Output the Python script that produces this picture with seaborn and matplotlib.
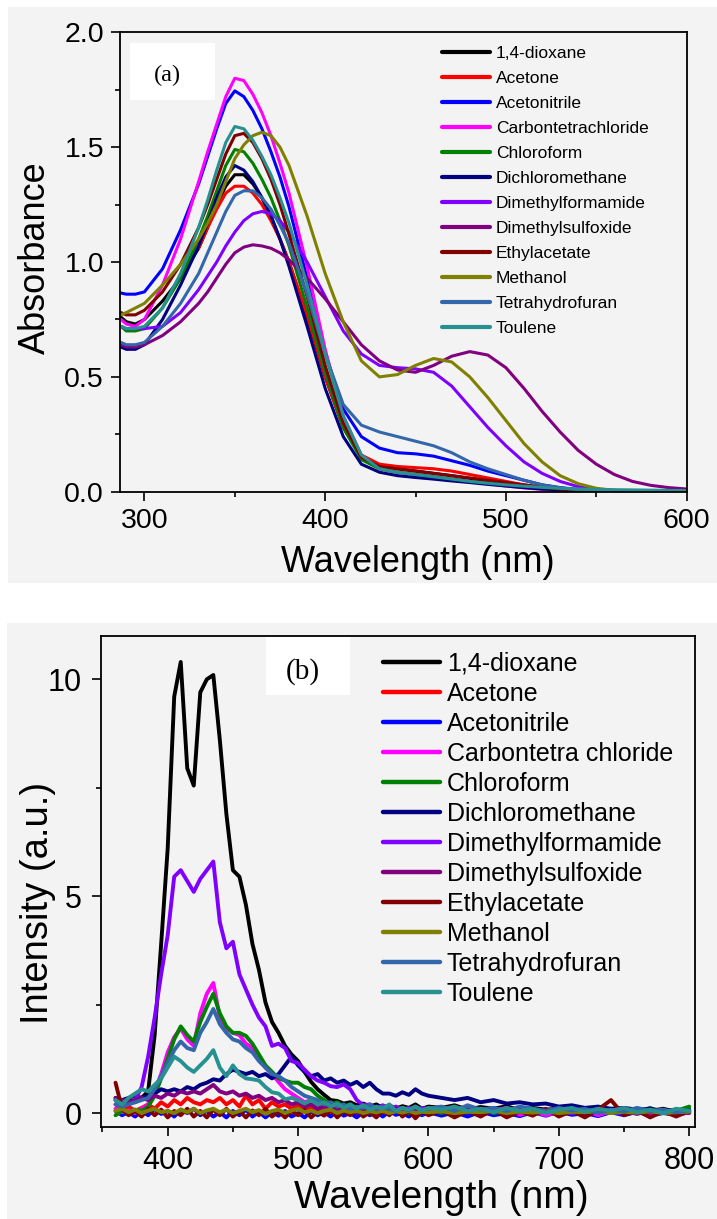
import numpy as np
import pandas as pd
import matplotlib
matplotlib.use("Agg")
import matplotlib.pyplot as plt
from matplotlib.patches import Rectangle
from matplotlib.ticker import MultipleLocator, FormatStrFormatter
import seaborn as sns

sns.set_style("ticks")
plt.rcParams["font.family"] = ["Liberation Sans", "DejaVu Sans"]
plt.rcParams["text.color"] = "black"
plt.rcParams["axes.labelcolor"] = "black"
plt.rcParams["xtick.color"] = "black"
plt.rcParams["ytick.color"] = "black"
plt.rcParams["axes.linewidth"] = 1.3
plt.rcParams["xtick.direction"] = "out"
plt.rcParams["ytick.direction"] = "out"
plt.rcParams["xtick.major.width"] = 1.2
plt.rcParams["ytick.major.width"] = 1.2
plt.rcParams["xtick.minor.width"] = 1.2
plt.rcParams["ytick.minor.width"] = 1.2
plt.rcParams["xtick.major.size"] = 6.5
plt.rcParams["ytick.major.size"] = 6.5
plt.rcParams["xtick.minor.size"] = 3.6
plt.rcParams["ytick.minor.size"] = 3.6

# ---------------- panel (a): absorbance ----------------
solvents_a = ["1,4-dioxane", "Acetone", "Acetonitrile", "Carbontetrachloride",
              "Chloroform", "Dichloromethane", "Dimethylformamide",
              "Dimethylsulfoxide", "Ethylacetate", "Methanol",
              "Tetrahydrofuran", "Toulene"]
solvents_b = ["1,4-dioxane", "Acetone", "Acetonitrile", "Carbontetra chloride",
              "Chloroform", "Dichloromethane", "Dimethylformamide",
              "Dimethylsulfoxide", "Ethylacetate", "Methanol",
              "Tetrahydrofuran", "Toulene"]
colors = ["#000000", "#FF0000", "#0000FF", "#FF00FF", "#008000", "#000080",
          "#8000FF", "#800080", "#800000", "#808000", "#3366AA", "#279191"]

wl_a = [287, 290, 295, 300, 310, 320, 330, 335, 340, 345, 350, 355, 360, 365,
        370, 375, 380, 390, 400, 410, 420, 430, 440, 450, 460, 470, 480, 490,
        500, 510, 520, 530, 540, 550, 560, 570, 580, 590, 600]

abs_dioxane = [0.76, 0.74, 0.73, 0.75, 0.83, 0.93, 1.06, 1.15, 1.25, 1.33, 1.38, 1.38, 1.34, 1.28,
               1.2, 1.1, 1.0, 0.76, 0.5, 0.28, 0.15, 0.11, 0.1, 0.09, 0.08, 0.07, 0.058, 0.045,
               0.033, 0.022, 0.013, 0.007, 0.004, 0.002, 0.001, 0.001, 0, 0, 0]
abs_acetone = [np.nan, np.nan, np.nan, np.nan, np.nan, np.nan, 1.06, 1.15, 1.23, 1.3, 1.33, 1.33, 1.3, 1.25,
               1.18, 1.1, 1.0, 0.77, 0.5, 0.28, 0.16, 0.12, 0.11, 0.105, 0.1, 0.09, 0.075, 0.06,
               0.045, 0.03, 0.018, 0.01, 0.005, 0.003, 0.002, 0.001, 0.001, 0, 0]
abs_acetonitrile = [0.865, 0.86, 0.86, 0.87, 0.97, 1.14, 1.34, 1.46, 1.58, 1.69, 1.745, 1.72, 1.66, 1.58,
                    1.48, 1.37, 1.24, 0.93, 0.6, 0.36, 0.24, 0.19, 0.17, 0.165, 0.155, 0.135, 0.115, 0.09,
                    0.07, 0.05, 0.03, 0.018, 0.01, 0.005, 0.003, 0.002, 0.001, 0.001, 0]
abs_ccl4 = [0.75, 0.73, 0.72, 0.75, 0.9, 1.1, 1.35, 1.48, 1.6, 1.72, 1.8, 1.79, 1.73, 1.65,
            1.55, 1.43, 1.3, 0.98, 0.62, 0.33, 0.16, 0.1, 0.085, 0.075, 0.065, 0.055, 0.045, 0.035,
            0.025, 0.017, 0.01, 0.006, 0.004, 0.003, 0.002, 0.002, 0.001, 0.001, 0.001]
abs_chloroform = [0.72, 0.70, 0.70, 0.71, 0.8, 0.93, 1.1, 1.2, 1.31, 1.42, 1.49, 1.48, 1.43, 1.36,
                  1.28, 1.18, 1.07, 0.8, 0.52, 0.28, 0.14, 0.1, 0.085, 0.075, 0.065, 0.055, 0.045, 0.036,
                  0.028, 0.02, 0.014, 0.009, 0.006, 0.004, 0.002, 0.001, 0.001, 0, 0]
abs_dcm = [0.63, 0.62, 0.62, 0.64, 0.75, 0.9, 1.07, 1.17, 1.28, 1.37, 1.42, 1.4, 1.35, 1.28,
           1.2, 1.1, 0.98, 0.72, 0.45, 0.24, 0.12, 0.085, 0.07, 0.062, 0.055, 0.047, 0.04, 0.032,
           0.025, 0.018, 0.012, 0.008, 0.005, 0.003, 0.002, 0.001, 0.001, 0, 0]
abs_dmf = [0.72, 0.71, 0.71, 0.71, 0.72, 0.78, 0.88, 0.94, 1.0, 1.07, 1.13, 1.18, 1.21, 1.22,
           1.21, 1.18, 1.13, 1.0, 0.85, 0.7, 0.6, 0.55, 0.54, 0.535, 0.52, 0.46, 0.37, 0.28,
           0.2, 0.13, 0.08, 0.045, 0.022, 0.01, 0.005, 0.002, 0.001, 0, 0]
abs_dmso = [0.64, 0.63, 0.63, 0.64, 0.68, 0.74, 0.82, 0.87, 0.93, 0.99, 1.04, 1.065, 1.075, 1.07,
            1.06, 1.04, 1.01, 0.93, 0.84, 0.74, 0.64, 0.57, 0.53, 0.52, 0.55, 0.59, 0.61, 0.595,
            0.54, 0.45, 0.35, 0.26, 0.18, 0.12, 0.075, 0.045, 0.028, 0.018, 0.012]
abs_etac = [0.78, 0.77, 0.77, 0.79, 0.87, 0.99, 1.15, 1.25, 1.36, 1.47, 1.55, 1.56, 1.52, 1.45,
            1.36, 1.25, 1.12, 0.85, 0.55, 0.3, 0.15, 0.11, 0.1, 0.09, 0.08, 0.07, 0.06, 0.05,
            0.04, 0.03, 0.02, 0.012, 0.007, 0.004, 0.002, 0.001, 0.001, 0, 0]
abs_methanol = [0.77, 0.78, 0.8, 0.82, 0.9, 0.99, 1.1, 1.17, 1.25, 1.35, 1.45, 1.51, 1.55, 1.565,
                1.55, 1.5, 1.42, 1.2, 0.95, 0.74, 0.57, 0.5, 0.51, 0.55, 0.58, 0.565, 0.5, 0.41,
                0.31, 0.21, 0.13, 0.07, 0.035, 0.015, 0.006, 0.002, 0.001, 0, 0]
abs_thf = [0.65, 0.64, 0.64, 0.65, 0.72, 0.82, 0.95, 1.04, 1.13, 1.22, 1.29, 1.31, 1.31, 1.28,
           1.23, 1.16, 1.08, 0.86, 0.6, 0.38, 0.29, 0.26, 0.24, 0.22, 0.2, 0.17, 0.13, 0.1,
           0.075, 0.05, 0.03, 0.017, 0.009, 0.005, 0.003, 0.002, 0.001, 0, 0]
abs_toluene = [0.72, 0.71, 0.71, 0.72, 0.8, 0.95, 1.15, 1.27, 1.4, 1.52, 1.59, 1.58, 1.53, 1.46,
               1.38, 1.28, 1.17, 0.9, 0.6, 0.33, 0.16, 0.1, 0.085, 0.075, 0.065, 0.055, 0.045, 0.037,
               0.03, 0.024, 0.019, 0.015, 0.012, 0.01, 0.009, 0.008, 0.007, 0.006, 0.005]

absorb = [abs_dioxane, abs_acetone, abs_acetonitrile, abs_ccl4, abs_chloroform, abs_dcm,
          abs_dmf, abs_dmso, abs_etac, abs_methanol, abs_thf, abs_toluene]

# ---------------- panel (b): emission ----------------
wl_b = list(range(360, 601, 5)) + list(range(610, 801, 10))

em_dioxane = [0.3, 0.22, 0.3, 0.25, 0.35, 0.5, 1.8, 3.9, 6.1, 9.6, 10.4, 7.95, 7.55, 9.7, 10.0, 10.1, 8.6, 6.9, 5.6, 5.45,
              4.8, 3.9, 3.3, 2.55, 2.1, 1.85, 1.55, 1.35, 1.2, 0.95, 0.72, 0.55, 0.42, 0.3, 0.28, 0.22, 0.25, 0.18, 0.22, 0.15,
              0.2, 0.12, 0.18, 0.1, 0.16, 0.12, 0.2, 0.1, 0.15,
              0.12, 0.18, 0.08, 0.14, 0.1, 0.16, 0.06, 0.12, 0.08, 0.1, 0.05, 0.12, 0.06, 0.1, 0.04, 0.09, 0.05, 0.1, 0.03, 0.08]
em_acetone = [0.2, 0.1, 0.15, 0.05, 0.12, 0.2, 0.1, 0.25, 0.15, 0.3, 0.2, 0.35, 0.25, 0.2, 0.3, 0.25, 0.35, 0.2, 0.3, 0.15,
              0.4, 0.2, 0.3, 0.1, 0.25, 0.15, 0.2, 0.1, 0.18, 0.05, 0.15, 0.05, 0.12, 0.0, 0.1, 0.02, 0.08, -0.02, 0.05, 0.0,
              0.08, -0.03, 0.05, 0.0, 0.06, -0.02, 0.04, 0.0, 0.05,
              -0.02, 0.05, 0.0, 0.06, -0.03, 0.04, 0.0, 0.05, -0.02, 0.03, 0.0, 0.05, -0.03, 0.04, 0.0, 0.05, -0.02, 0.03, 0.0, 0.04]
em_acetonitrile = [0.05, -0.05, 0.02, -0.08, 0.05, -0.05, 0.1, -0.02, 0.05, -0.08, 0.08, 0.0, 0.1, -0.05, 0.05, -0.08, 0.02, -0.1, 0.05, -0.05,
                   0.08, -0.08, 0.03, -0.1, 0.02, -0.06, 0.05, -0.08, 0.0, -0.1, 0.04, -0.05, 0.02, -0.08, 0.05, -0.06, 0.0, -0.1, 0.03, -0.05,
                   0.02, -0.08, 0.04, -0.04, 0.0, -0.08, 0.03, -0.05, 0.02,
                   -0.06, 0.02, -0.08, 0.03, -0.05, 0.0, -0.07, 0.02, -0.06, 0.03, -0.04, 0.0, -0.07, 0.02, -0.05, 0.03, -0.06, 0.0, -0.04, 0.02]
em_ccl4 = [0.1, 0.02, 0.05, 0.0, 0.1, 0.2, 0.5, 0.9, 1.4, 1.75, 1.95, 1.7, 1.55, 2.3, 2.75, 3.0, 2.2, 1.95, 1.85, 1.8,
           1.6, 1.5, 1.3, 1.05, 0.9, 0.72, 0.55, 0.45, 0.35, 0.25, 0.3, 0.2, 0.15, 0.2, 0.1, 0.15, 0.05, 0.12, 0.02, 0.1,
           0.0, 0.08, -0.02, 0.06, 0.0, 0.1, -0.03, 0.05, 0.0,
           0.05, -0.05, 0.08, -0.02, 0.06, 0.12, -0.04, 0.05, -0.05, 0.04, 0.0, 0.07, -0.05, 0.05, 0.0, 0.06, -0.03, 0.04, -0.05, 0.02]
em_chloroform = [-0.05, 0.05, 0.0, 0.08, 0.05, 0.15, 0.4, 0.8, 1.25, 1.7, 2.0, 1.8, 1.65, 2.1, 2.45, 2.75, 2.3, 2.0, 1.85, 1.85,
                 1.78, 1.6, 1.35, 1.1, 0.95, 0.8, 0.75, 0.7, 0.7, 0.6, 0.55, 0.4, 0.3, 0.2, 0.25, 0.15, 0.2, 0.1, 0.15, 0.05,
                 0.12, 0.08, 0.0, 0.1, 0.05, 0.0, 0.08, 0.02, 0.1,
                 0.0, 0.08, 0.02, 0.1, 0.0, 0.06, 0.12, -0.02, 0.08, 0.0, 0.06, -0.03, 0.05, 0.0, 0.1, 0.02, 0.12, 0.0, 0.05, 0.15]
em_dcm = [0.35, 0.3, 0.35, 0.4, 0.35, 0.4, 0.45, 0.55, 0.5, 0.55, 0.5, 0.6, 0.55, 0.65, 0.7, 0.78, 0.75, 0.9, 1.0, 0.95,
          0.9, 0.95, 0.85, 0.9, 0.8, 0.9, 1.1, 1.3, 1.1, 0.95, 0.85, 0.9, 0.75, 0.8, 0.7, 0.75, 0.65, 0.72, 0.6, 0.7,
          0.55, 0.45, 0.45, 0.4, 0.48, 0.42, 0.55, 0.45, 0.4,
          0.35, 0.3, 0.35, 0.25, 0.3, 0.22, 0.25, 0.2, 0.22, 0.15, 0.18, 0.12, 0.15, 0.1, 0.12, 0.08, 0.1, 0.05, 0.08, 0.05]
em_dmf = [0.3, 0.25, 0.2, 0.3, 0.6, 1.3, 2.2, 3.2, 4.1, 5.45, 5.6, 5.35, 5.1, 5.4, 5.6, 5.8, 4.4, 3.8, 3.95, 3.2,
          2.85, 2.5, 2.2, 2.0, 1.55, 1.6, 1.5, 1.2, 1.15, 1.0, 0.85, 0.75, 0.7, 0.62, 0.6, 0.66, 0.55, 0.3, 0.18, 0.2,
          0.12, 0.18, 0.1, 0.15, 0.08, 0.12, 0.06, 0.12, 0.1,
          0.08, 0.12, 0.05, 0.1, 0.04, 0.08, 0.02, 0.06, 0.03, 0.07, 0.0, 0.05, 0.02, 0.06, -0.02, 0.04, 0.01, 0.05, -0.01, 0.03]
em_dmso = [0.35, 0.3, 0.25, 0.3, 0.35, 0.3, 0.4, 0.35, 0.45, 0.4, 0.5, 0.45, 0.5, 0.45, 0.55, 0.65, 0.5, 0.45, 0.5, 0.4,
           0.45, 0.35, 0.4, 0.3, 0.35, 0.25, 0.3, 0.2, 0.25, 0.15, 0.2, 0.1, 0.15, 0.08, 0.12, 0.05, 0.1, 0.02, 0.08, 0.0,
           0.05, 0.1, 0.0, 0.06, -0.02, 0.05, 0.0, 0.08, -0.02,
           0.05, 0.0, 0.08, -0.03, 0.05, 0.0, 0.1, 0.02, 0.06, -0.02, 0.05, 0.0, 0.08, 0.02, 0.05, -0.02, 0.06, 0.0, 0.04, 0.0]
em_etac = [0.7, 0.1, -0.05, 0.05, -0.08, 0.1, -0.05, 0.08, -0.1, 0.05, -0.05, 0.1, -0.08, 0.05, -0.1, 0.08, -0.05, 0.1, -0.08, 0.05,
           -0.1, 0.06, -0.05, 0.1, -0.08, 0.04, -0.1, 0.05, -0.05, 0.08, -0.1, 0.03, -0.06, 0.08, -0.1, 0.05, -0.05, 0.1, -0.08, 0.02,
           -0.1, 0.06, -0.05, 0.1, -0.08, 0.05, -0.12, 0.04, -0.05,
           0.06, -0.1, 0.05, -0.08, 0.08, -0.1, 0.04, -0.06, 0.1, -0.08, 0.05, -0.1, 0.08, 0.3, -0.05, 0.06, -0.1, 0.04, -0.08, 0.05]
em_methanol = [0.05, 0.1, 0.02, 0.08, 0.0, 0.06, 0.1, 0.02, 0.05, 0.0, 0.08, 0.02, 0.1, 0.0, 0.06, 0.1, 0.02, 0.08, 0.0, 0.05,
               0.1, 0.02, 0.07, -0.02, 0.05, 0.08, 0.0, 0.06, 0.1, 0.02, 0.06, 0.0, 0.05, 0.08, 0.0, 0.06, 0.02, 0.05, 0.0, 0.04,
               0.02, 0.05, 0.0, 0.04, 0.01, 0.05, 0.0, 0.03, 0.02,
               0.04, 0.0, 0.03, 0.02, 0.05, 0.0, 0.03, 0.01, 0.04, 0.0, 0.03, 0.02, 0.04, 0.0, 0.03, 0.01, 0.04, 0.0, 0.02, 0.03]
em_thf = [0.2, 0.15, 0.2, 0.25, 0.3, 0.35, 0.55, 0.85, 1.15, 1.45, 1.65, 1.5, 1.45, 1.85, 2.1, 2.4, 2.05, 1.85, 1.7, 1.65,
          1.5, 1.4, 1.2, 1.05, 0.9, 0.85, 0.75, 0.6, 0.5, 0.4, 0.35, 0.3, 0.2, 0.25, 0.15, 0.2, 0.1, 0.15, 0.12, 0.2,
          0.08, 0.15, 0.1, 0.05, 0.12, 0.06, 0.15, 0.08, 0.1,
          0.15, 0.05, 0.18, 0.08, 0.12, 0.05, 0.15, 0.1, 0.05, 0.12, 0.06, 0.1, 0.0, 0.08, 0.04, 0.12, 0.05, 0.08, 0.02, 0.06]
em_toluene = [0.3, 0.2, 0.35, 0.45, 0.55, 0.5, 0.65, 0.8, 1.05, 1.3, 1.2, 1.05, 0.95, 1.1, 1.25, 1.45, 1.05, 0.85, 1.1, 0.9,
              0.8, 0.78, 0.75, 0.6, 0.48, 0.45, 0.32, 0.35, 0.3, 0.22, 0.3, 0.2, 0.25, 0.15, 0.22, 0.12, 0.2, 0.1, 0.18, 0.08,
              0.15, 0.1, 0.2, 0.05, 0.12, 0.08, 0.15, 0.05, 0.12,
              0.08, 0.15, 0.05, 0.1, 0.02, 0.12, 0.05, 0.1, 0.0, 0.08, 0.12, 0.03, 0.1, 0.05, 0.12, 0.02, 0.08, 0.0, 0.1, 0.05]

emission = [em_dioxane, em_acetone, em_acetonitrile, em_ccl4, em_chloroform, em_dcm,
            em_dmf, em_dmso, em_etac, em_methanol, em_thf, em_toluene]


def long_form(wl, series, names):
    frames = [pd.DataFrame({"wl": wl, "val": vals, "solvent": name})
              for name, vals in zip(names, series)]
    return pd.concat(frames, ignore_index=True).dropna()


df_a = long_form(wl_a, absorb, solvents_a)
df_b = long_form(wl_b, emission, solvents_b)

fig = plt.figure(figsize=(7.17, 12.19), dpi=100)
fig.patch.set_facecolor("white")
# light grey backgrounds of the two scanned panels
fig.patches.append(Rectangle((0.011, 0.5217), 0.989, 0.4725, transform=fig.transFigure,
                             facecolor="#f3f3f3", edgecolor="none", zorder=-5))
fig.patches.append(Rectangle((0.0098, 0.0), 0.9902, 0.4889, transform=fig.transFigure,
                             facecolor="#f3f3f3", edgecolor="none", zorder=-5))

ax_a = fig.add_axes([0.1674, 0.5966, 0.7903, 0.3769])
ax_b = fig.add_axes([0.1404, 0.0755, 0.8289, 0.4028])
for ax in (ax_a, ax_b):
    ax.set_facecolor("none")
    for s in ax.spines.values():
        s.set_linewidth(1.3)
        s.set_color("black")

# panel (a)
sns.lineplot(data=df_a, x="wl", y="val", hue="solvent", hue_order=solvents_a,
             palette=colors, linewidth=2.2, sort=False, estimator=None, ax=ax_a)
ax_a.set_xlim(286.5, 600)
ax_a.set_ylim(0, 2.0)
ax_a.xaxis.set_major_locator(MultipleLocator(100))
ax_a.xaxis.set_minor_locator(MultipleLocator(50))
ax_a.yaxis.set_major_locator(MultipleLocator(0.5))
ax_a.yaxis.set_minor_locator(MultipleLocator(0.25))
ax_a.yaxis.set_major_formatter(FormatStrFormatter("%.1f"))
ax_a.tick_params(axis="both", which="major", labelsize=20.5, pad=5)
ax_a.set_xlabel("Wavelength (nm)", fontsize=26)
ax_a.set_ylabel("Absorbance", fontsize=26)
ax_a.xaxis.set_label_coords(0.526, -0.116)
ax_a.yaxis.set_label_coords(-0.119, 0.509)
h, l = ax_a.get_legend_handles_labels()
leg_a = ax_a.legend(h, l, loc="upper left", bbox_to_anchor=(0.568, 0.971), frameon=False,
                    fontsize=12.5, handlelength=2.8, handletextpad=0.3, labelspacing=0.57,
                    borderpad=0, borderaxespad=0)
for hd in leg_a.legend_handles:
    hd.set_linewidth(3.0)
ax_a.add_patch(Rectangle((0.0176, 0.8526), 0.15, 0.124, transform=ax_a.transAxes,
                         facecolor="white", edgecolor="none", zorder=0.5))
ax_a.text(0.083, 0.907, "(a)", transform=ax_a.transAxes, fontsize=17.5,
          family=["Liberation Serif", "DejaVu Serif"], ha="center", va="center")

# panel (b)
sns.lineplot(data=df_b, x="wl", y="val", hue="solvent", hue_order=solvents_b,
             palette=colors, linewidth=2.8, sort=False, estimator=None, ax=ax_b)
ax_b.set_xlim(348.6, 804.4)
ax_b.set_ylim(-0.32, 11.0)
ax_b.xaxis.set_major_locator(MultipleLocator(100))
ax_b.xaxis.set_minor_locator(MultipleLocator(50))
ax_b.yaxis.set_major_locator(MultipleLocator(5))
ax_b.yaxis.set_minor_locator(MultipleLocator(2.5))
ax_b.yaxis.set_major_formatter(FormatStrFormatter("%d"))
ax_b.tick_params(axis="both", which="major", labelsize=22, pad=7)
ax_b.set_xlabel("Wavelength (nm)", fontsize=28)
ax_b.set_ylabel("Intensity (a.u.)", fontsize=27.5)
ax_b.xaxis.set_label_coords(0.573, -0.108)
ax_b.yaxis.set_label_coords(-0.075, 0.456)
h, l = ax_b.get_legend_handles_labels()
leg_b = ax_b.legend(h, l, loc="upper left", bbox_to_anchor=(0.475, 0.968), frameon=False,
                    fontsize=18, handlelength=2.3, handletextpad=0.25, labelspacing=0.24,
                    borderpad=0, borderaxespad=0)
for hd in leg_b.legend_handles:
    hd.set_linewidth(3.2)
ax_b.add_patch(Rectangle((0.279, 0.88), 0.14, 0.118, transform=ax_b.transAxes,
                         facecolor="white", edgecolor="none", zorder=0.5))
ax_b.text(0.340, 0.927, "(b)", transform=ax_b.transAxes, fontsize=21,
          family=["Liberation Serif", "DejaVu Serif"], ha="center", va="center")

fig.savefig("out.png", dpi=100)
